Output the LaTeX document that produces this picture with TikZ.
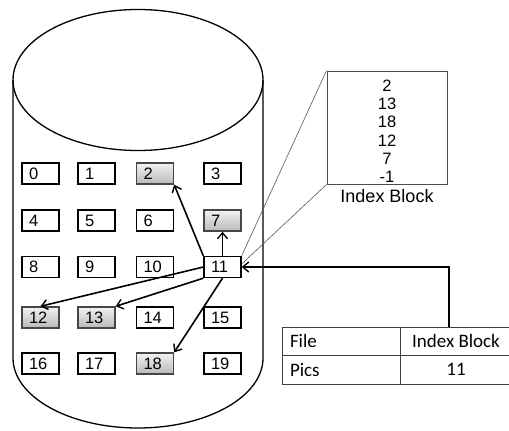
\documentclass[tikz,border=0pt]{standalone}
\usepackage{fontspec}
\setmainfont{Liberation Sans}
\newfontfamily\tablefont{Carlito}
\usetikzlibrary{arrows.meta}

\begin{document}
\begin{tikzpicture}[x=1pt, y=-1pt,
    blk/.style={draw, line width=1.4pt, minimum width=37pt, minimum height=21pt,
        inner xsep=7pt, inner ysep=0pt, text width=23pt, align=left,
        font=\fontsize{16.5}{18}\selectfont},
    used/.style={blk, draw=gray!55!black, top color=gray!10, bottom color=gray!55},
    ptr/.style={line width=1.6pt, -{Straight Barb[length=6pt, width=10pt, line width=1.4pt]}},
    cell/.style={draw=black!75, line width=1pt, minimum height=28.5pt, inner sep=0pt,
        font=\tablefont\fontsize{19}{20}\selectfont}]
    \useasboundingbox (0,0) rectangle (509,431);

    % the disk
    \draw[line width=1.3pt] (138,80) ellipse [x radius=125, y radius=70.5];
    \draw[line width=1.3pt] (13,80) -- (13,358) arc [start angle=180, end angle=0, x radius=125, y radius=70] -- (263,80);

    % blocks on the disk
    \node[blk]  (b0)  at (40.5,173.5) {0};
    \node[blk]  (b1)  at (96.5,173.5) {1};
    \node[used] (b2)  at (155,173.5)  {2};
    \node[blk]  (b3)  at (222.5,173.5) {3};

    \node[blk]  (b4)  at (40.5,220.5) {4};
    \node[blk]  (b5)  at (96.5,220.5) {5};
    \node[blk]  (b6)  at (155,220.5)  {6};
    \node[used] (b7)  at (222.5,220.5) {7};

    \node[blk]  (b8)  at (40.5,267) {8};
    \node[blk]  (b9)  at (96.5,267) {9};
    \node[blk]  (b10) at (155,267)  {10};
    \node[blk]  (b11) at (222.5,267) {11};

    \node[used] (b12) at (40.5,317.5) {12};
    \node[used] (b13) at (96.5,317.5) {13};
    \node[blk]  (b14) at (155,317.5)  {14};
    \node[blk]  (b15) at (222.5,317.5) {15};

    \node[blk]  (b16) at (40.5,363.5) {16};
    \node[blk]  (b17) at (96.5,363.5) {17};
    \node[used] (b18) at (155,363.5)  {18};
    \node[blk]  (b19) at (222.5,363.5) {19};

    % contents of block 11
    \node[draw=black!70, line width=0.9pt, minimum width=120pt, minimum height=113pt,
        align=center, inner sep=0pt, font=\fontsize{16.5}{18.2}\selectfont,
        label={[font=\fontsize{18}{20}\selectfont, yshift=-1pt]below:Index Block}]
        (ib) at (387,127.5) {\rule{0pt}{19pt}2\\13\\18\\12\\7\\-1};
    \draw[gray!70!black, line width=0.6pt] (ib.north west) -- (b11.north east);
    \draw[gray!70!black, line width=0.6pt] (ib.south west) -- ([yshift=3pt]b11.east);

    % pointers out of the index block
    \draw[ptr] (b11.north west) -- (b2.south east);
    \draw[ptr] (b11.north) -- (b7.south);
    \draw[ptr] (b11.west) -- (b12.north);
    \draw[ptr] (b11.south west) -- (b13.north east);
    \draw[ptr] (b11.south) -- (b18.north east);

    % directory entry
    \node[cell, minimum width=118pt, text width=102pt, inner xsep=8pt, align=left] (thFile) at (341,341.25) {File};
    \node[cell, minimum width=112pt] (thIdx) at (456,341.25) {Index Block};
    \node[cell, minimum width=118pt, text width=102pt, inner xsep=8pt, align=left] (tdPics) at (341,369.75) {Pics};
    \node[cell, minimum width=112pt] (tdNum) at (456,369.75) {11};
    \draw[ptr] ([xshift=-7pt]thIdx.north) |- (b11.east);
\end{tikzpicture}
\end{document}
